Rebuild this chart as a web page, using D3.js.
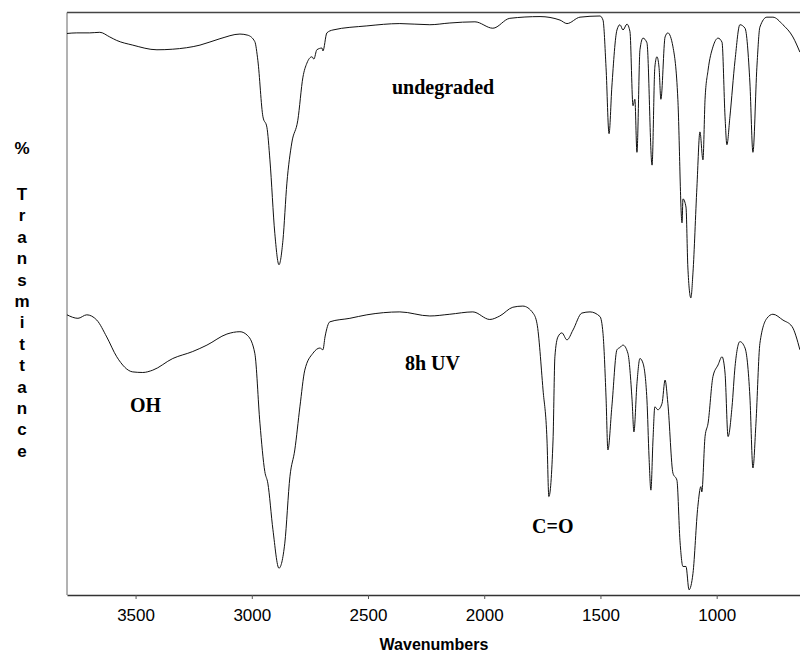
<!DOCTYPE html>
<html>
<head>
<meta charset="utf-8">
<style>
  html, body { margin: 0; padding: 0; background: #fff; }
  svg { display: block; }
</style>
</head>
<body>
<svg id="chart"></svg>
<script src="https://cdn.jsdelivr.net/npm/d3@7"></script>
<script>
// IR spectra, [wavenumber (cm-1), %T (stacked, arbitrary offset)]
var undegraded = [
  [3795, 96.4], [3753, 96.5], [3697, 96.5], [3654, 96.6], [3611, 95.8], [3581, 95.2],
  [3512, 94.4], [3408, 93.6], [3340, 93.7], [3223, 94.4], [3137, 95.5], [3051, 96.3],
  [3017, 96.1], [2987, 95.0], [2974, 91.8], [2952, 82.1], [2935, 80.3], [2922, 74.7],
  [2901, 62.1], [2883, 56.7], [2866, 60.9], [2849, 70.7], [2828, 77.6], [2802, 81.5],
  [2780, 88.9], [2763, 91.3], [2741, 92.4], [2733, 92.0], [2720, 93.6], [2698, 93.9],
  [2694, 93.4], [2677, 96.5], [2651, 97.0], [2505, 97.7], [2363, 98.1], [2234, 97.9],
  [2148, 98.2], [2040, 98.4], [1963, 97.3], [1890, 99.0], [1760, 99.3], [1674, 98.7],
  [1644, 98.1], [1588, 99.2], [1502, 99.4], [1489, 98.7], [1476, 90.6], [1463, 79.2],
  [1451, 87.2], [1429, 97.0], [1416, 97.9], [1403, 97.0], [1386, 98.0], [1373, 96.7],
  [1360, 84.0], [1352, 85.1], [1343, 76.0], [1330, 93.6], [1317, 95.6], [1300, 94.8],
  [1278, 73.8], [1266, 90.6], [1257, 92.4], [1248, 90.6], [1240, 85.1], [1222, 95.8],
  [1210, 96.5], [1188, 94.1], [1167, 85.1], [1149, 63.9], [1145, 68.0], [1132, 66.6],
  [1124, 56.3], [1111, 51.0], [1102, 55.3], [1085, 70.0], [1072, 79.5], [1059, 74.7],
  [1050, 85.1], [1037, 90.1], [1016, 94.1], [994, 95.6], [977, 94.9], [964, 82.1],
  [956, 77.3], [943, 82.1], [921, 91.8], [900, 97.9], [878, 97.3], [857, 87.9],
  [844, 76.0], [827, 90.6], [814, 97.5], [784, 99.2], [758, 99.2], [715, 97.9],
  [672, 95.8], [642, 93.2]
];

var uv8h = [
  [3795, 48.1], [3748, 47.5], [3710, 48.1], [3667, 47.2], [3624, 44.3], [3581, 40.9],
  [3512, 38.3], [3469, 38.2], [3426, 38.6], [3340, 40.6], [3254, 41.8], [3193, 42.9],
  [3107, 44.8], [3051, 45.2], [3017, 44.5], [2987, 41.5], [2965, 29.5], [2944, 21.2],
  [2931, 19.2], [2909, 11.2], [2883, 4.6], [2858, 8.9], [2836, 20.3], [2815, 24.9],
  [2793, 32.3], [2772, 38.6], [2737, 41.5], [2707, 42.4], [2694, 42.1], [2685, 44.3],
  [2664, 46.9], [2578, 47.5], [2505, 48.1], [2363, 48.6], [2234, 47.9], [2148, 48.2],
  [2049, 48.6], [1976, 47.3], [1933, 47.9], [1877, 49.4], [1834, 49.6], [1790, 48.4],
  [1773, 46.6], [1747, 35.2], [1730, 26.6], [1722, 16.9], [1704, 26.6], [1696, 40.9],
  [1683, 44.3], [1666, 45.0], [1644, 43.8], [1618, 45.5], [1580, 48.4], [1545, 48.6],
  [1502, 47.8], [1489, 44.9], [1476, 34.0], [1468, 24.9], [1451, 32.3], [1429, 42.1],
  [1416, 42.5], [1403, 42.9], [1382, 41.5], [1364, 33.5], [1356, 28.0], [1343, 36.3],
  [1330, 40.6], [1317, 39.8], [1300, 33.5], [1291, 23.7], [1283, 18.0], [1274, 26.6],
  [1266, 32.3], [1253, 31.8], [1235, 32.9], [1222, 36.9], [1210, 32.9], [1188, 20.9],
  [1171, 19.7], [1158, 9.4], [1145, 4.9], [1132, 4.9], [1119, 0.9], [1102, 3.7],
  [1081, 15.2], [1068, 18.6], [1064, 17.7], [1050, 27.2], [1037, 29.5], [1016, 37.5],
  [994, 39.5], [977, 40.9], [964, 38.1], [951, 27.2], [934, 32.3], [921, 39.2],
  [900, 43.5], [878, 42.4], [857, 34.0], [844, 21.8], [831, 29.5], [814, 43.2],
  [784, 47.5], [758, 48.2], [715, 47.2], [676, 46.1], [642, 42.1]
];

var xTicks = [3500, 3000, 2500, 2000, 1500, 1000];

var annotations = [
  { text: "undegraded", wn: 2397, t: 86.0 },
  { text: "8h UV", wn: 2341, t: 38.6 },
  { text: "OH", wn: 3524, t: 31.4 },
  { text: "C=O", wn: 1794, t: 10.6 }
];

var yLetters = ["T", "r", "a", "n", "s", "m", "i", "t", "t", "a", "n", "c", "e"];

var width = 800;
var height = 656;
var plotLeft = 67, plotTop = 12.5, plotBottom = 595, plotRight = 805;

var svg = d3.select("#chart").attr("width", width).attr("height", height);

var x = d3.scaleLinear().domain([3795, 620]).range([plotLeft, plotRight]);
var y = d3.scaleLinear().domain([0, 100]).range([plotBottom, plotTop]);

svg.append("clipPath").attr("id", "plotclip")
  .append("rect")
  .attr("x", plotLeft).attr("y", plotTop - 2)
  .attr("width", plotRight - plotLeft).attr("height", plotBottom - plotTop + 2);

// frame
svg.append("line").attr("x1", plotLeft).attr("x2", width).attr("y1", plotTop).attr("y2", plotTop)
  .attr("stroke", "#444").attr("stroke-width", 1.3);
svg.append("line").attr("x1", plotLeft).attr("x2", plotLeft).attr("y1", plotTop).attr("y2", plotBottom)
  .attr("stroke", "#666").attr("stroke-width", 1);

// bottom axis
var xAxis = d3.axisBottom(x).tickValues(xTicks).tickSize(4).tickSizeOuter(0)
  .tickPadding(10).tickFormat(d3.format("d"));
var gx = svg.append("g").attr("transform", "translate(0," + plotBottom + ")").call(xAxis);
gx.select(".domain").attr("stroke", "#333").attr("stroke-width", 1.3);
gx.selectAll(".tick line").attr("stroke", "#555");
gx.selectAll(".tick text")
  .attr("font-family", "'Liberation Sans', Arial, sans-serif")
  .attr("font-size", 17).attr("fill", "#000");

// spectra
var line = d3.line()
  .x(d => x(d[0]))
  .y(d => y(d[1]))
  .curve(d3.curveMonotoneX);

var plot = svg.append("g").attr("clip-path", "url(#plotclip)");
[undegraded, uv8h].forEach(function(series) {
  plot.append("path")
    .datum(series)
    .attr("d", line)
    .attr("fill", "none")
    .attr("stroke", "#111")
    .attr("stroke-width", 1);
});

// annotations
svg.selectAll("text.note")
  .data(annotations)
  .enter()
  .append("text")
  .attr("class", "note")
  .attr("x", d => x(d.wn))
  .attr("y", d => y(d.t))
  .attr("font-family", "'Liberation Serif', 'Times New Roman', serif")
  .attr("font-weight", "bold")
  .attr("font-size", 20)
  .text(d => d.text);

// axis titles
svg.append("text")
  .attr("x", 434).attr("y", 650)
  .attr("text-anchor", "middle")
  .attr("font-family", "'Liberation Sans', Arial, sans-serif")
  .attr("font-weight", "bold")
  .attr("font-size", 16)
  .text("Wavenumbers");

var ylab = svg.append("g")
  .attr("font-family", "'Liberation Sans', Arial, sans-serif")
  .attr("font-weight", "bold")
  .attr("font-size", 17)
  .attr("text-anchor", "middle");
ylab.append("text").attr("x", 22).attr("y", 154).text("%");
ylab.selectAll("text.l")
  .data(yLetters)
  .enter()
  .append("text")
  .attr("class", "l")
  .attr("x", 22)
  .attr("y", (d, i) => 200 + i * 21.4)
  .text(d => d);
</script>
</body>
</html>
